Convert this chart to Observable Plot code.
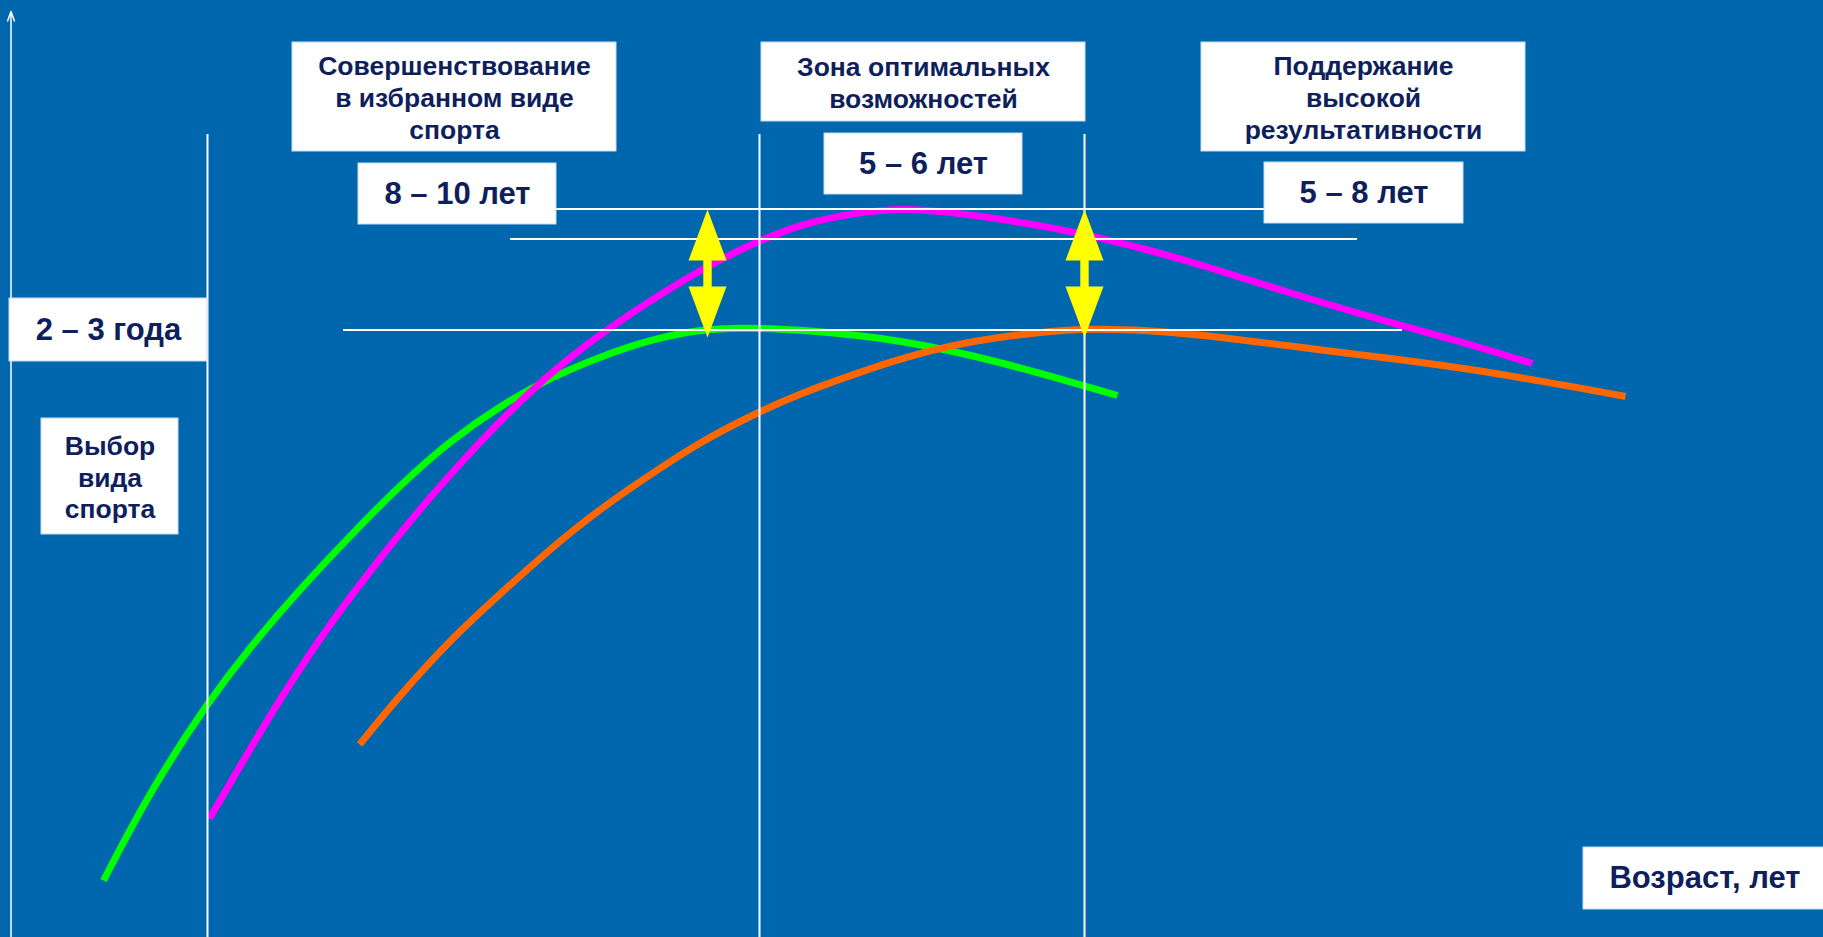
<!DOCTYPE html>
<html><head><meta charset="utf-8">
<script src="https://cdn.jsdelivr.net/npm/d3@7"></script>
<script src="https://cdn.jsdelivr.net/npm/@observablehq/plot@0.6"></script>
<style>
html,body{margin:0;padding:0;background:#0067AE;overflow:hidden}
#chart svg{display:block}
</style></head><body><div id="chart"></div>
<script>
// ---- data (abstract units: x = age axis, y = performance level) ----
const seriesNames = ["зелёная", "пурпурная", "оранжевая"];
const seriesColors = ["#00FF00", "#FF00FF", "#FF6600"];
const greenCurve = [[10.3,5.7],[15.0,14.7],[20.7,23.5],[25.0,29.1],[30.0,34.9],[35.0,40.2],[40.0,45.3],[45.0,49.7],[50.0,53.2],[55.0,56.0],[60.0,58.1],[65.0,59.8],[70.0,60.8],[74.0,61.0],[80.0,60.8],[90.0,59.8],[100.0,57.6],[111.7,54.2]];
const magentaCurve = [[20.9,11.9],[23.0,15.5],[28.0,24.0],[33.0,31.5],[38.0,38.0],[44.0,45.4],[53.3,55.2],[60.3,60.7],[70.0,66.9],[75.9,69.7],[80.0,71.3],[85.0,72.4],[90.7,73.1],[100.0,71.9],[108.4,70.4],[115.0,68.7],[120.0,67.3],[130.0,64.1],[140.0,61.2],[145.0,59.9],[153.2,57.4]];
const orangeCurve = [[35.9,19.3],[40.0,24.3],[45.0,29.8],[50.0,34.4],[55.0,38.9],[60.0,42.9],[65.0,46.3],[70.0,49.6],[75.9,52.6],[80.0,54.4],[85.0,56.2],[90.0,57.9],[95.0,59.2],[100.0,60.1],[108.4,61.0],[115.0,60.7],[120.0,60.3],[130.0,59.0],[140.0,57.8],[150.0,56.4],[162.5,54.1]];

// reference levels (horizontal white lines)
const levelY = [72.85, 69.85, 60.75];
const levelFrom = [55.6, 51.0, 34.3];
const levelTo = [126.4, 135.7, 140.2];
// stage boundaries (vertical white lines)
const stageX = [20.7, 75.9, 108.4];
const stageTop = 80.3;
// difference arrows
const gapX = [70.7, 108.4];
const gapTop = [72.8, 72.8];
const gapBottom = [60.0, 60.0];

// labels
const stageTitles = ["Совершенствование\nв избранном виде\nспорта", "Зона оптимальных\nвозможностей", "Поддержание\nвысокой\nрезультативности", "Выбор\nвида\nспорта"];
const stageDurations = ["8 – 10 лет", "5 – 6 лет", "5 – 8 лет", "2 – 3 года", "Возраст, лет"];

// ---- layout (positions in units, box sizes in px) ----
const titleX = [45.4, 92.3, 136.3, 10.95];
const titleY = [84.05, 85.55, 84.05, 46.1];
const titleW = [324, 324, 324, 137];
const titleH = [109, 79, 109, 116];
const durX = [45.7, 92.3, 136.35, 10.8, 170.35];
const durY = [74.35, 77.35, 74.45, 60.75, 5.9];
const durW = [198, 198, 199, 198, 241];
const durH = [61, 61, 61, 63, 62];

const W = 1823, H = 937;
const PX = 10; // px per unit

const curves = [greenCurve, magentaCurve, orangeCurve].flatMap((c, i) =>
  c.map(([x, y]) => ({series: seriesNames[i], x, y})));
const levels = levelY.map((y, i) => ({y, x1: levelFrom[i], x2: levelTo[i]}));
const stages = stageX.map(x => ({x, y1: 0, y2: stageTop}));

const hw = 19 / PX, hl = 51 / PX, sw = 4.2 / PX;
const arrowPts = gapX.flatMap((x, i) => {
  const t = gapTop[i], b = gapBottom[i];
  return [[x, t], [x + hw, t - hl], [x + sw, t - hl], [x + sw, b + hl], [x + hw, b + hl], [x, b],
          [x - hw, b + hl], [x - sw, b + hl], [x - sw, t - hl], [x - hw, t - hl], [x, t]]
    .map(([px, py]) => ({id: i, x: px, y: py}));
});

const boxes = [
  ...stageTitles.map((t, i) => ({cx: titleX[i], cy: titleY[i], w: titleW[i], h: titleH[i]})),
  ...stageDurations.map((t, i) => ({cx: durX[i], cy: durY[i], w: durW[i], h: durH[i]}))
].map(d => ({x1: d.cx - d.w / 2 / PX, x2: d.cx + d.w / 2 / PX, y1: d.cy - d.h / 2 / PX, y2: d.cy + d.h / 2 / PX}));

const titles = stageTitles.map((text, i) => ({text, x: titleX[i], y: titleY[i]}));
const durs = stageDurations.map((text, i) => ({text, x: durX[i] + (i === 4 ? 0.1 : 0), y: durY[i]}));

const chart = Plot.plot({
  width: W, height: H,
  marginTop: 0, marginRight: 0, marginBottom: 0, marginLeft: 0,
  x: {domain: [0, W / PX], axis: null},
  y: {domain: [0, H / PX], axis: null},
  color: {domain: seriesNames, range: seriesColors},
  style: {background: "#0067AE", fontFamily: "'Liberation Sans', Arial, sans-serif"},
  marks: [
    Plot.line(curves, {x: "x", y: "y", z: "series", stroke: "series", strokeWidth: 7,
      curve: "basis", strokeLinecap: "butt", strokeLinejoin: "round"}),
    Plot.ruleX(stages, {x: "x", y1: "y1", y2: "y2", stroke: "white", strokeWidth: 2}),
    Plot.ruleY(levels, {y: "y", x1: "x1", x2: "x2", stroke: "white", strokeWidth: 2}),
    Plot.arrow([{x1: 1.05, y1: 0, x2: 1.05, y2: 92.6}], {x1: "x1", y1: "y1", x2: "x2", y2: "y2",
      stroke: "white", strokeWidth: 1.5, headLength: 10, headAngle: 40}),
    Plot.line(arrowPts, {x: "x", y: "y", z: "id", fill: "#FFFF00", stroke: "none", curve: "linear"}),
    Plot.rect(boxes, {x1: "x1", x2: "x2", y1: "y1", y2: "y2", fill: "white", stroke: "#c9dcef", strokeWidth: 1}),
    Plot.text(titles, {x: "x", y: "y", text: "text", fill: "#0f1f5c", fontSize: 26.5, fontWeight: "bold",
      lineHeight: 1.2, textAnchor: "middle"}),
    Plot.text(durs, {x: "x", y: "y", text: "text", fill: "#0f1f5c", fontSize: 31, fontWeight: "bold",
      textAnchor: "middle"})
  ]
});
document.getElementById("chart").appendChild(chart);
</script>
</body></html>
